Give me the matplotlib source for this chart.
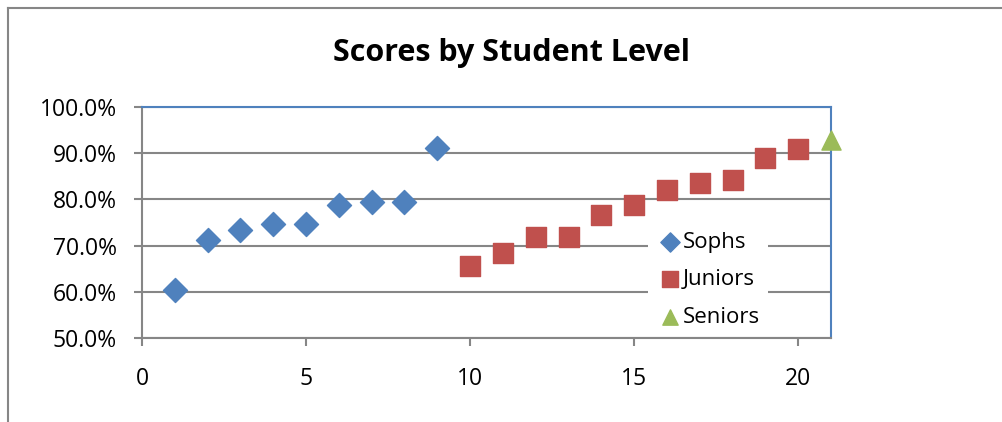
import matplotlib.pyplot as plt
from matplotlib.ticker import FuncFormatter
from matplotlib.lines import Line2D

# data
sophs_x = [1, 2, 3, 4, 5, 6, 7, 8, 9]
sophs_y = [0.603, 0.713, 0.734, 0.747, 0.747, 0.788, 0.795, 0.795, 0.911]
juniors_x = [10, 11, 12, 13, 14, 15, 16, 17, 18, 19, 20]
juniors_y = [0.656, 0.684, 0.719, 0.719, 0.766, 0.787, 0.821, 0.835, 0.842, 0.890, 0.910]
seniors_x = [21]
seniors_y = [0.929]

blue = '#4F81BD'
red = '#C0504D'
green = '#9BBB59'
grey = '#868686'

plt.rcParams['font.family'] = ['Open Sans', 'DejaVu Sans']

fig = plt.figure(figsize=(10.03, 4.22), dpi=100)
ax = fig.add_axes([142 / 1003, 1 - 338 / 422, 689 / 1003, 231 / 422])

# outer chart border (cropped)
fig.add_artist(Line2D([8 / 1003, 8 / 1003], [0, 1 - 8 / 422], color=grey, lw=1.5))
fig.add_artist(Line2D([8 / 1003, 1], [1 - 8 / 422, 1 - 8 / 422], color=grey, lw=1.5))

ax.scatter(sophs_x, sophs_y, marker='D', s=150, color=blue, label='Sophs', zorder=3, clip_on=False)
ax.scatter(juniors_x, juniors_y, marker='s', s=200, color=red, label='Juniors', zorder=3, clip_on=False)
ax.scatter(seniors_x, seniors_y, marker='^', s=190, color=green, label='Seniors', zorder=3, clip_on=False)

ax.set_xlim(0, 21)
ax.set_ylim(0.5, 1.0)
ax.set_xticks([0, 5, 10, 15, 20])
ax.set_yticks([0.5, 0.6, 0.7, 0.8, 0.9, 1.0])
ax.yaxis.set_major_formatter(FuncFormatter(lambda v, p: '{:.1f}%'.format(v * 100)))
ax.grid(True, axis='y', color=grey, lw=1.5, zorder=0)
ax.set_axisbelow(True)

for s in ['left', 'bottom']:
    ax.spines[s].set_color(grey)
    ax.spines[s].set_linewidth(1.5)
for s in ['top', 'right']:
    ax.spines[s].set_color(blue)
    ax.spines[s].set_linewidth(1.5)

ax.tick_params(axis='both', direction='out', length=6, width=1.5, color=grey,
               labelsize=16.5, labelcolor='black')
ax.tick_params(axis='x', pad=15)
ax.tick_params(axis='y', pad=12)

fig.text(0.51, 1 - 53 / 422, 'Scores by Student Level', ha='center', va='center',
         fontsize=22, fontweight='bold')

leg = ax.legend(loc='lower left', bbox_to_anchor=(0.735, 0.01), borderaxespad=0,
                frameon=True, fontsize=16, handletextpad=0.0, labelspacing=0.75,
                borderpad=0.35, handlelength=1.2, fancybox=False, markerscale=0.8)
leg.get_frame().set_facecolor('white')
leg.get_frame().set_edgecolor('none')
leg.get_frame().set_alpha(1)

fig.savefig('out.png', dpi=100)
